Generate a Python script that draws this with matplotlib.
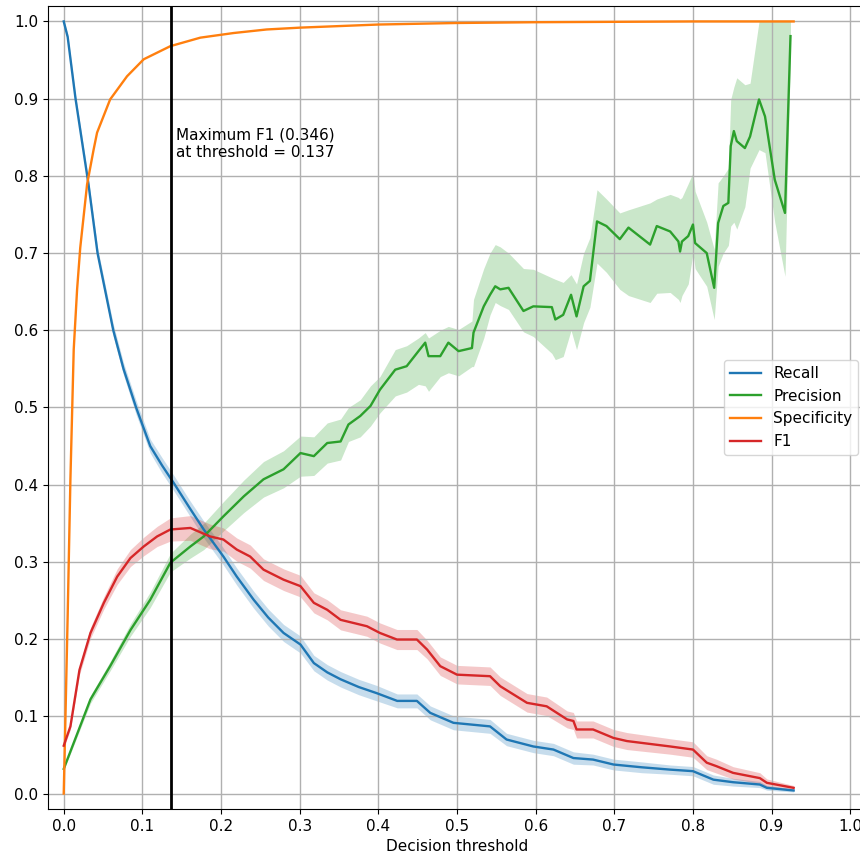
import numpy as np
import matplotlib
matplotlib.use("Agg")
import matplotlib.pyplot as plt

# ---------------- data ----------------
recall_t = [0, 0.005, 0.015, 0.0315, 0.043, 0.063, 0.076, 0.092, 0.11, 0.125, 0.140, 0.16,
            0.178, 0.203, 0.220, 0.2415, 0.26, 0.2795, 0.301, 0.318, 0.335, 0.352, 0.375,
            0.398, 0.424, 0.449, 0.466, 0.4955, 0.542, 0.563, 0.597, 0.6226, 0.648, 0.673,
            0.699, 0.735, 0.771, 0.800, 0.826, 0.851, 0.885, 0.894, 0.928]
recall_v = [1.0, 0.98, 0.90, 0.789, 0.70, 0.60, 0.55, 0.50, 0.45, 0.425, 0.402, 0.37,
            0.342, 0.307, 0.281, 0.251, 0.228, 0.208, 0.193, 0.169, 0.157, 0.148, 0.138,
            0.130, 0.120, 0.120, 0.1045, 0.0916, 0.087, 0.070, 0.061, 0.057, 0.046, 0.044,
            0.0376, 0.034, 0.031, 0.029, 0.018, 0.0147, 0.0117, 0.0074, 0.004]
recall_hw = [0.002, 0.004, 0.005, 0.006, 0.007, 0.008, 0.008, 0.009, 0.009, 0.01, 0.01, 0.01,
             0.011, 0.011, 0.011, 0.011, 0.011, 0.011, 0.011, 0.01, 0.01, 0.01, 0.01,
             0.01, 0.009, 0.009, 0.009, 0.009, 0.009, 0.008, 0.008, 0.008, 0.008, 0.007,
             0.007, 0.007, 0.006, 0.006, 0.006, 0.005, 0.004, 0.003, 0.002]

f1_t = [0, 0.0085, 0.02, 0.034, 0.051, 0.068, 0.0848, 0.1017, 0.1187, 0.1356, 0.161, 0.186,
        0.203, 0.220, 0.237, 0.254, 0.2795, 0.301, 0.318, 0.335, 0.352, 0.3855, 0.402,
        0.4236, 0.449, 0.462, 0.4787, 0.50, 0.542, 0.555, 0.589, 0.614, 0.640, 0.648,
        0.652, 0.673, 0.699, 0.716, 0.771, 0.800, 0.8175, 0.830, 0.851, 0.885, 0.894, 0.928]
f1_v = [0.062, 0.087, 0.16, 0.208, 0.247, 0.281, 0.305, 0.320, 0.333, 0.342, 0.344, 0.333,
        0.329, 0.316, 0.307, 0.290, 0.277, 0.2686, 0.247, 0.238, 0.225, 0.2167, 0.208,
        0.1995, 0.1995, 0.1865, 0.165, 0.154, 0.152, 0.139, 0.1175, 0.113, 0.096, 0.094,
        0.083, 0.083, 0.072, 0.068, 0.061, 0.057, 0.040, 0.0354, 0.0268, 0.020, 0.0139, 0.0074]
f1_hw = [0.003, 0.004, 0.006, 0.007, 0.008, 0.010, 0.011, 0.012, 0.013, 0.015, 0.016, 0.016,
         0.015, 0.015, 0.015, 0.014, 0.014, 0.014, 0.013, 0.013, 0.013, 0.013, 0.013,
         0.013, 0.013, 0.012, 0.012, 0.012, 0.012, 0.012, 0.012, 0.012, 0.011, 0.011,
         0.011, 0.011, 0.011, 0.011, 0.010, 0.010, 0.009, 0.009, 0.008, 0.007, 0.005, 0.003]

prec_t = [0, 0.034, 0.059, 0.085, 0.110, 0.1356, 0.161, 0.178, 0.203, 0.229, 0.254, 0.2795,
          0.301, 0.318, 0.335, 0.352, 0.362, 0.377, 0.390, 0.402, 0.4215, 0.436, 0.451,
          0.4596, 0.4638, 0.4787, 0.489, 0.502, 0.519, 0.521, 0.534, 0.542, 0.5486, 0.555,
          0.5655, 0.5845, 0.597, 0.6206, 0.625, 0.635, 0.645, 0.652, 0.661, 0.669, 0.678,
          0.690, 0.707, 0.718, 0.7455, 0.754, 0.771, 0.7815, 0.7836, 0.786, 0.794, 0.800,
          0.8027, 0.8175, 0.827, 0.832, 0.8386, 0.845, 0.848, 0.852, 0.8557, 0.866, 0.8726,
          0.884, 0.8916, 0.904, 0.917, 0.924]
prec_v = [0.032, 0.122, 0.165, 0.212, 0.251, 0.299, 0.320, 0.333, 0.359, 0.385, 0.407, 0.420,
          0.441, 0.437, 0.454, 0.456, 0.478, 0.489, 0.502, 0.523, 0.549, 0.5535, 0.573,
          0.584, 0.5665, 0.5665, 0.584, 0.573, 0.577, 0.597, 0.631, 0.646, 0.657, 0.653,
          0.655, 0.625, 0.631, 0.630, 0.614, 0.620, 0.646, 0.618, 0.657, 0.664, 0.741,
          0.735, 0.718, 0.733, 0.711, 0.735, 0.728, 0.715, 0.702, 0.715, 0.722, 0.737,
          0.713, 0.700, 0.655, 0.739, 0.761, 0.765, 0.8385, 0.858, 0.845, 0.836, 0.851,
          0.899, 0.877, 0.795, 0.752, 0.981]
prec_lo = [0.030, 0.117, 0.159, 0.204, 0.241, 0.287, 0.305, 0.316, 0.340, 0.364, 0.384, 0.396,
           0.411, 0.412, 0.428, 0.432, 0.456, 0.462, 0.476, 0.493, 0.515, 0.520, 0.530,
           0.528, 0.521, 0.540, 0.545, 0.541, 0.553, 0.553, 0.590, 0.620, 0.636, 0.632,
           0.627, 0.598, 0.592, 0.570, 0.562, 0.566, 0.600, 0.575, 0.610, 0.630, 0.687,
           0.675, 0.653, 0.645, 0.636, 0.648, 0.649, 0.640, 0.636, 0.645, 0.660, 0.700,
           0.680, 0.657, 0.614, 0.683, 0.700, 0.710, 0.735, 0.740, 0.731, 0.760, 0.810,
           0.834, 0.830, 0.740, 0.670, 0.960]
prec_hi = [0.034, 0.127, 0.171, 0.220, 0.261, 0.311, 0.336, 0.350, 0.378, 0.406, 0.430, 0.444,
           0.463, 0.462, 0.480, 0.485, 0.500, 0.510, 0.528, 0.540, 0.575, 0.580, 0.590,
           0.597, 0.590, 0.600, 0.605, 0.601, 0.612, 0.640, 0.680, 0.700, 0.711, 0.708,
           0.700, 0.680, 0.679, 0.668, 0.666, 0.662, 0.672, 0.660, 0.700, 0.720, 0.782,
           0.770, 0.752, 0.756, 0.765, 0.770, 0.776, 0.772, 0.770, 0.772, 0.790, 0.804,
           0.780, 0.740, 0.705, 0.791, 0.800, 0.810, 0.899, 0.915, 0.927, 0.918, 0.920,
           1.0, 1.0, 1.0, 1.0, 1.0]

spec_t = [0, 0.002, 0.005, 0.0085, 0.0127, 0.017, 0.021, 0.0297, 0.038, 0.0424, 0.059,
          0.0805, 0.1017, 0.1356, 0.1737, 0.216, 0.258, 0.301, 0.4, 0.5, 0.6, 0.7, 0.8, 0.928]
spec_v = [0.0, 0.09, 0.23, 0.407, 0.575, 0.653, 0.707, 0.789, 0.834, 0.856, 0.899,
          0.929, 0.951, 0.968, 0.979, 0.985, 0.9896, 0.992, 0.996, 0.998, 0.999, 0.9995, 1.0, 1.0]

best_threshold = 0.137
best_f1 = 0.346

# ---------------- plot ----------------
fig = plt.figure(figsize=(8.6, 8.57), dpi=100)
ax = fig.add_axes([0.05581, 0.05601, 0.95117, 0.93699])

C_REC, C_PREC, C_SPEC, C_F1 = "#1f77b4", "#2ca02c", "#ff7f0e", "#d62728"
FS = 11

rt, rv, rh = map(np.array, (recall_t, recall_v, recall_hw))
ft, fv, fh = map(np.array, (f1_t, f1_v, f1_hw))

ax.plot(rt, rv, color=C_REC, lw=1.7, label="Recall")
ax.fill_between(rt, rv - rh, rv + rh, color=C_REC, alpha=0.25, lw=0)
ax.plot(prec_t, prec_v, color=C_PREC, lw=1.7, label="Precision")
ax.fill_between(prec_t, prec_lo, prec_hi, color=C_PREC, alpha=0.25, lw=0)
ax.plot(spec_t, spec_v, color=C_SPEC, lw=1.7, label="Specificity")
ax.plot(ft, fv, color=C_F1, lw=1.7, label="F1")
ax.fill_between(ft, fv - fh, fv + fh, color=C_F1, alpha=0.25, lw=0)

ax.axvline(best_threshold, color="black", lw=2)
ax.text(best_threshold + 0.006, 0.824,
        f"Maximum F1 ({best_f1:.3f})\nat threshold = {best_threshold:.3f}", fontsize=FS)

ax.set_xlim(-0.02, 1.02)
ax.set_ylim(-0.02, 1.02)
ax.set_xticks(np.arange(0, 1.01, 0.1))
ax.set_yticks(np.arange(0, 1.01, 0.1))
ax.tick_params(labelsize=FS)
ax.grid(True, color="#b0b0b0", lw=1.0)
ax.set_xlabel("Decision threshold", fontsize=FS)
ax.legend(loc="center right", fontsize=FS)

fig.savefig("out.png", dpi=100)
